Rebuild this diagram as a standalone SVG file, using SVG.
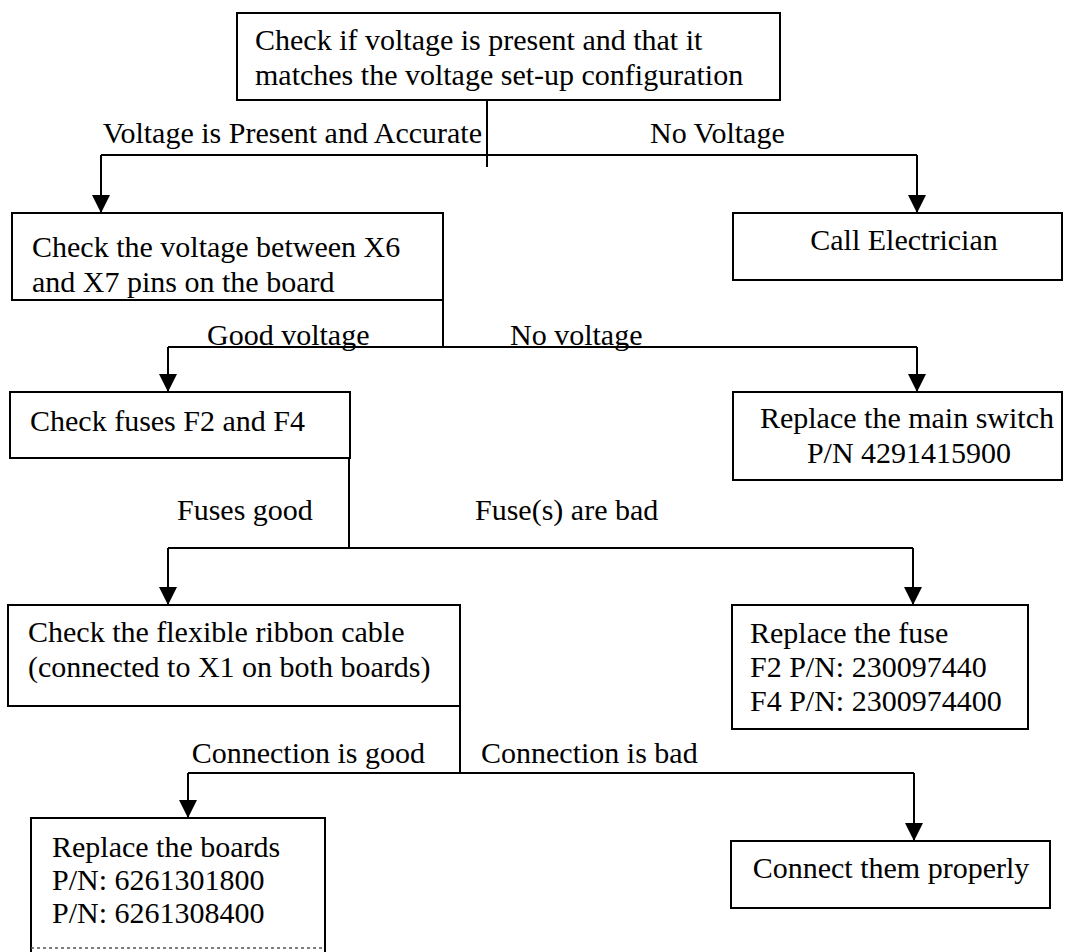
<svg xmlns="http://www.w3.org/2000/svg" width="1065" height="952" viewBox="0 0 1065 952">
<style>
  .box { fill: #ffffff; stroke: #000000; stroke-width: 2; }
  .t { font-family: "Liberation Serif", "Times New Roman", serif; font-size: 30px; fill: #000000; }
  .c { text-anchor: middle; }
  .ln { fill: none; stroke: #000000; stroke-width: 2; }
</style>
<defs>
  <marker id="ah" viewBox="0 0 18 18" refX="18" refY="9" markerWidth="18" markerHeight="18" orient="auto" markerUnits="userSpaceOnUse">
    <path d="M0,0 L18,9 L0,18 z" fill="#000000"/>
  </marker>
</defs>
<rect width="1065" height="952" fill="#ffffff"/>

<g id="connectors">
  <path class="ln" d="M487,100 V167"/>
  <path class="ln" d="M101,155 H917"/>
  <path class="ln" d="M101,155 V213" marker-end="url(#ah)"/>
  <path class="ln" d="M917,155 V213" marker-end="url(#ah)"/>

  <path class="ln" d="M443,300 V347"/>
  <path class="ln" d="M168,347 H917"/>
  <path class="ln" d="M168,347 V392" marker-end="url(#ah)"/>
  <path class="ln" d="M917,347 V392" marker-end="url(#ah)"/>

  <path class="ln" d="M349,458 V548"/>
  <path class="ln" d="M168,548 H913"/>
  <path class="ln" d="M168,548 V605" marker-end="url(#ah)"/>
  <path class="ln" d="M913,548 V605" marker-end="url(#ah)"/>

  <path class="ln" d="M460,706 V773"/>
  <path class="ln" d="M188,773 H914"/>
  <path class="ln" d="M188,773 V818" marker-end="url(#ah)"/>
  <path class="ln" d="M914,773 V841" marker-end="url(#ah)"/>

  <text class="t" x="482" y="143" text-anchor="end">Voltage is Present and Accurate</text>
  <text class="t" x="650" y="143">No Voltage</text>
  <text class="t" x="207" y="345">Good voltage</text>
  <text class="t" x="510" y="345">No voltage</text>
  <text class="t" x="177" y="520">Fuses good</text>
  <text class="t" x="475" y="520">Fuse(s) are bad</text>
  <text class="t" x="425" y="763" text-anchor="end">Connection is good</text>
  <text class="t" x="481" y="763">Connection is bad</text>
</g>

<g id="n1">
  <rect class="box" x="237" y="13" width="543" height="87"/>
  <text class="t" x="255" y="50">Check if voltage is present and that it</text>
  <text class="t" x="255" y="85">matches the voltage set-up configuration</text>
</g>

<g id="n2">
  <rect class="box" x="12" y="213" width="431" height="87"/>
  <text class="t" x="32" y="257">Check the voltage between X6</text>
  <text class="t" x="32" y="292">and X7 pins on the board</text>
</g>

<g id="n3">
  <rect class="box" x="733" y="213" width="329" height="67"/>
  <text class="t c" x="904" y="250">Call Electrician</text>
</g>

<g id="n4">
  <rect class="box" x="10" y="392" width="340" height="66"/>
  <text class="t" x="30" y="431">Check fuses F2 and F4</text>
</g>

<g id="n5">
  <rect class="box" x="733" y="392" width="329" height="88"/>
  <text class="t c" x="907" y="428">Replace the main switch</text>
  <text class="t c" x="909" y="463">P/N 4291415900</text>
</g>

<g id="n6">
  <rect class="box" x="8" y="605" width="452" height="101"/>
  <text class="t" x="28" y="642">Check the flexible ribbon cable</text>
  <text class="t" x="28" y="677">(connected to X1 on both boards)</text>
</g>

<g id="n7">
  <rect class="box" x="732" y="605" width="296" height="124"/>
  <text class="t" x="750" y="643">Replace the fuse</text>
  <text class="t" x="750" y="677">F2 P/N: 230097440</text>
  <text class="t" x="750" y="711">F4 P/N: 2300974400</text>
</g>

<g id="n8">
  <path class="ln" d="M31,952 V818 H325 V952"/>
  <path d="M31,948 H325" fill="none" stroke="#555555" stroke-width="1.5" stroke-dasharray="3,3"/>
  <text class="t" x="52" y="857">Replace the boards</text>
  <text class="t" x="52" y="890">P/N: 6261301800</text>
  <text class="t" x="52" y="923">P/N: 6261308400</text>
</g>

<g id="n9">
  <rect class="box" x="731" y="841" width="319" height="67"/>
  <text class="t c" x="891" y="878">Connect them properly</text>
</g>
</svg>
